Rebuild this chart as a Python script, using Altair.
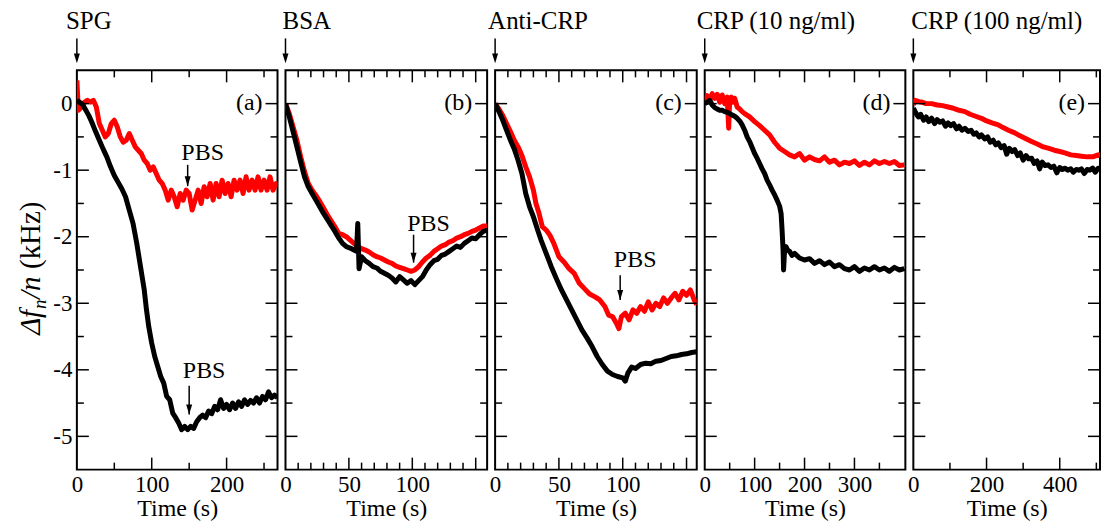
import altair as alt
import pandas as pd

FONT = "Liberation Serif"
H = 400
Y_DOMAIN = [-5.5, 0.5]
Y_LABELS = [0, -1, -2, -3, -4, -5]
Y_MINOR = [-0.5, -1.5, -2.5, -3.5, -4.5]

# ---------------- data ----------------
# (a) SPG
A_BLACK_T = [0, 4, 8, 12, 16, 20, 25, 30, 35, 40, 45, 50, 55, 60, 65, 70, 75, 80, 85, 90, 93, 96, 100, 104, 108,
             112, 116, 120, 124, 128, 132, 136, 140, 144, 148, 152, 156, 160, 164, 168, 172, 176, 180, 184, 188, 192,
             196, 200, 204, 208, 212, 216, 220, 224, 228, 232, 236, 240, 244, 248, 252, 256, 260, 264, 268]
A_BLACK_Y = [0.05, 0.02, -0.02, -0.1, -0.18, -0.28, -0.42, -0.55, -0.68, -0.8, -0.95, -1.08, -1.18, -1.28, -1.4,
             -1.6, -1.8, -2.1, -2.45, -2.8, -3.1, -3.35, -3.6, -3.8, -3.95, -4.1, -4.2, -4.4, -4.45, -4.65, -4.72,
             -4.8, -4.9, -4.85, -4.9, -4.85, -4.88, -4.78, -4.72, -4.68, -4.72, -4.62, -4.66, -4.55, -4.6, -4.45,
             -4.58, -4.52, -4.6, -4.5, -4.58, -4.48, -4.55, -4.45, -4.52, -4.46, -4.5, -4.42, -4.5, -4.4, -4.45,
             -4.33, -4.42, -4.38, -4.42]
A_RED_T = [0, 2, 6, 10, 14, 18, 22, 26, 30, 34, 38, 42, 46, 50, 54, 58, 62, 66, 70, 74, 78, 82, 86, 90, 94, 98,
           102, 106, 110, 114, 118, 122, 126, 130, 134, 138, 142, 146, 150, 154, 158, 162, 166, 170, 174, 178, 182,
           186, 190, 194, 198, 202, 206, 210, 214, 218, 222, 226, 230, 234, 238, 242, 246, 250, 254, 258, 262, 266,
           268]
A_RED_Y = [0.35, -0.1, -0.05, 0.02, 0.05, 0.02, 0.05, -0.05, -0.3, -0.4, -0.5, -0.45, -0.3, -0.25, -0.35, -0.5,
           -0.58, -0.55, -0.45, -0.55, -0.65, -0.7, -0.75, -0.85, -0.9, -1.0, -0.95, -1.05, -1.15, -1.2, -1.3,
           -1.45, -1.3, -1.4, -1.55, -1.35, -1.45, -1.3, -1.35, -1.6, -1.45, -1.3, -1.5, -1.25, -1.4, -1.2, -1.45,
           -1.2, -1.4, -1.15, -1.35, -1.2, -1.4, -1.15, -1.3, -1.15, -1.35, -1.1, -1.3, -1.15, -1.3, -1.1, -1.3,
           -1.15, -1.3, -1.1, -1.3, -1.2, -1.25]

# (b) BSA
B_BLACK_T = [0, 3, 6, 9, 12, 15, 18, 21, 24, 27, 30, 33, 36, 39, 42, 45, 48, 51, 54, 56, 57, 58, 60, 63, 66, 69,
             72, 75, 78, 81, 84, 87, 90, 93, 96, 99, 102, 105, 108, 111, 114, 117, 120, 123, 126, 129, 132, 135,
             138, 141, 144, 147, 150, 153, 156, 159]
B_BLACK_Y = [0, -0.2, -0.42, -0.65, -0.88, -1.1, -1.25, -1.35, -1.45, -1.55, -1.65, -1.74, -1.83, -1.92, -2.02,
             -2.1, -2.15, -2.17, -2.2, -2.22, -1.8, -2.48, -2.3, -2.36, -2.4, -2.45, -2.47, -2.52, -2.55, -2.58,
             -2.62, -2.68, -2.6, -2.65, -2.7, -2.66, -2.72, -2.66, -2.6, -2.5, -2.42, -2.36, -2.34, -2.28, -2.26,
             -2.22, -2.18, -2.14, -2.16, -2.1, -2.06, -2.02, -2.03, -1.97, -1.92, -1.9]
B_RED_T = [0, 3, 6, 9, 12, 15, 18, 21, 24, 27, 30, 33, 36, 39, 42, 45, 48, 51, 54, 57, 60, 63, 66, 69, 72, 75, 78,
           81, 84, 87, 90, 93, 96, 99, 102, 105, 108, 111, 114, 117, 120, 123, 126, 129, 132, 135, 138, 141, 144,
           147, 150, 153, 156, 159]
B_RED_Y = [0, -0.15, -0.35, -0.55, -0.8, -1.02, -1.2, -1.3, -1.38, -1.47, -1.57, -1.67, -1.76, -1.85, -1.95,
           -1.97, -2.0, -2.05, -2.1, -2.15, -2.18, -2.2, -2.23, -2.27, -2.3, -2.32, -2.35, -2.38, -2.4, -2.44,
           -2.46, -2.48, -2.5, -2.52, -2.5, -2.45, -2.38, -2.32, -2.28, -2.22, -2.18, -2.14, -2.12, -2.08, -2.06,
           -2.02, -2.0, -1.97, -1.95, -1.92, -1.9, -1.87, -1.84, -1.84]

# (c) Anti-CRP
C_BLACK_T = [0, 3, 6, 9, 12, 15, 18, 21, 24, 27, 30, 33, 36, 40, 44, 48, 52, 56, 60, 64, 68, 72, 76, 80, 84, 88,
             92, 96, 100, 102, 104, 107, 110, 114, 118, 122, 126, 130, 134, 138, 142, 146, 150, 154, 158]
C_BLACK_Y = [0, -0.12, -0.25, -0.4, -0.55, -0.68, -0.85, -1.05, -1.35, -1.55, -1.7, -1.88, -2.05, -2.25, -2.45,
             -2.63, -2.8, -2.95, -3.1, -3.25, -3.4, -3.52, -3.65, -3.8, -3.92, -4.02, -4.07, -4.1, -4.12, -4.17,
             -4.05, -3.96, -3.98, -3.92, -3.9, -3.91, -3.87, -3.86, -3.83, -3.8, -3.79, -3.77, -3.76, -3.74, -3.73]
C_RED_T = [0, 3, 6, 9, 12, 15, 18, 21, 24, 27, 30, 32, 34, 37, 40, 43, 46, 50, 54, 58, 62, 66, 70, 74, 78, 82, 86,
           89, 92, 95, 97, 99, 102, 105, 108, 111, 114, 117, 120, 123, 126, 129, 132, 135, 138, 141, 144, 147, 150,
           153, 156, 158]
C_RED_Y = [0, -0.08, -0.18, -0.3, -0.42, -0.55, -0.65, -0.78, -0.95, -1.1, -1.3, -1.5, -1.62, -1.85, -1.9, -1.98,
           -2.1, -2.3, -2.38, -2.48, -2.55, -2.7, -2.78, -2.86, -2.9, -2.95, -3.05, -3.18, -3.2, -3.3, -3.38, -3.2,
           -3.15, -3.25, -3.1, -3.15, -3.05, -3.12, -2.98, -3.1, -3.0, -3.05, -2.92, -3.0, -2.92, -2.85, -2.95,
           -2.82, -2.88, -2.8, -2.95, -3.02]

# (d) CRP 10 ng/ml
D_BLACK_T = [0, 5, 10, 15, 20, 25, 30, 35, 40, 45, 50, 55, 60, 65, 70, 75, 80, 85, 90, 95, 100, 105, 110, 115, 120,
             125, 130, 135, 140, 145, 150, 153, 155, 157, 158, 160, 163, 166, 170, 175, 180, 190, 200, 210, 220,
             230, 240, 250, 260, 270, 280, 290, 300, 310, 320, 330, 340, 350, 360, 370, 380, 390, 400]
D_BLACK_Y = [0.0, 0.02, 0.05, -0.02, -0.06, -0.08, -0.1, -0.1, -0.12, -0.13, -0.15, -0.17, -0.19, -0.22, -0.26,
             -0.32, -0.4, -0.5, -0.57, -0.66, -0.75, -0.82, -0.9, -0.98, -1.05, -1.15, -1.22, -1.3, -1.37, -1.45,
             -1.54, -1.65, -1.9, -2.2, -2.5, -2.2, -2.15, -2.2, -2.22, -2.28, -2.25, -2.32, -2.35, -2.33, -2.4,
             -2.36, -2.42, -2.38, -2.45, -2.42, -2.48, -2.5, -2.45, -2.52, -2.47, -2.5, -2.45, -2.5, -2.47, -2.52,
             -2.46, -2.5, -2.48]
D_RED_T = [0, 5, 10, 15, 20, 25, 30, 35, 40, 45, 48, 50, 53, 56, 60, 65, 70, 75, 80, 90, 100, 110, 120, 130, 140,
           150, 160, 170, 180, 190, 200, 210, 220, 230, 240, 250, 260, 270, 280, 290, 300, 310, 320, 330, 340, 350,
           360, 370, 380, 390, 400]
D_RED_Y = [0.05, 0.12, 0.05, 0.15, 0.08, 0.14, 0.02, 0.13, 0.0, 0.1, -0.37, 0.05, 0.1, 0.02, 0.08, -0.05, -0.08,
           -0.12, -0.15, -0.2, -0.27, -0.33, -0.4, -0.47, -0.58, -0.67, -0.72, -0.77, -0.8, -0.75, -0.85, -0.8,
           -0.84, -0.86, -0.8, -0.88, -0.85, -0.92, -0.88, -0.9, -0.86, -0.93, -0.88, -0.92, -0.86, -0.9, -0.87,
           -0.9, -0.87, -0.93, -0.92]

# (e) CRP 100 ng/ml
E_BLACK_T = [0, 5, 10, 14, 20, 28, 35, 42, 50, 58, 65, 72, 80, 88, 95, 102, 110, 118, 125, 133, 141, 150, 158, 165,
             172, 180, 186, 195, 203, 210, 218, 225, 232, 240, 248, 255, 262, 270, 277, 285, 292, 300, 308, 315,
             323, 330, 338, 345, 352, 360, 368, 376, 384, 392, 400, 407, 414, 422, 430, 437, 445, 452, 459, 467,
             475, 482, 490, 497, 505, 510]
E_BLACK_Y = [-0.07, -0.12, -0.17, -0.2, -0.16, -0.25, -0.2, -0.27, -0.22, -0.3, -0.24, -0.28, -0.26, -0.34, -0.29,
             -0.33, -0.3, -0.38, -0.34, -0.4, -0.37, -0.42, -0.4, -0.46, -0.44, -0.5, -0.47, -0.53, -0.5, -0.58,
             -0.55, -0.62, -0.59, -0.66, -0.63, -0.76, -0.67, -0.72, -0.69, -0.78, -0.74, -0.85, -0.78, -0.83,
             -0.82, -0.9, -0.86, -0.98, -0.88, -0.93, -0.92, -0.96, -0.94, -1.04, -0.96, -0.99, -0.97, -1.0, -0.98,
             -1.03, -0.99, -1.0, -0.98, -1.05, -0.99, -1.0, -0.97, -1.03, -0.97, -0.98]
E_RED_T = [0, 5, 15, 25, 35, 50, 65, 80, 95, 110, 125, 141, 155, 170, 186, 200, 215, 232, 245, 260, 277, 290, 305,
           323, 340, 355, 368, 385, 400, 414, 430, 445, 459, 475, 490, 505, 510]
E_RED_Y = [-0.02, 0.05, 0.03, 0.02, 0.0, 0.0, -0.02, -0.03, -0.05, -0.07, -0.1, -0.12, -0.16, -0.19, -0.22, -0.26,
           -0.29, -0.32, -0.36, -0.4, -0.44, -0.48, -0.52, -0.57, -0.61, -0.65, -0.67, -0.7, -0.72, -0.74, -0.77,
           -0.78, -0.79, -0.8, -0.8, -0.77, -0.79]

# PBS annotations: time of injection, text baseline, arrow top, arrow tip
A_PBS_T = [148, 150]
A_PBS_TEXT = [-0.84, -4.13]
A_PBS_TOP = [-0.92, -4.24]
A_PBS_TIP = [-1.24, -4.67]
B_PBS_T = [101]
B_PBS_TEXT = [-1.91]
B_PBS_TOP = [-1.97]
B_PBS_TIP = [-2.39]
C_PBS_T = [98]
C_PBS_TEXT = [-2.45]
C_PBS_TOP = [-2.58]
C_PBS_TIP = [-2.95]

PANELS = [
    dict(title="SPG", label="(a)", width=201, xmax=268, xlabels=[0, 100, 200], xmajor=[100, 200],
         xminor=[50, 150, 250], tdx=-11, black=(A_BLACK_T, A_BLACK_Y), red=(A_RED_T, A_RED_Y),
         pbs=(A_PBS_T, A_PBS_TEXT, A_PBS_TOP, A_PBS_TIP)),
    dict(title="BSA", label="(b)", width=202, xmax=159, xlabels=[0, 50, 100], xmajor=[50, 100, 150],
         xminor=[10, 20, 30, 40, 60, 70, 80, 90, 110, 120, 130, 140], tdx=-3, black=(B_BLACK_T, B_BLACK_Y),
         red=(B_RED_T, B_RED_Y), pbs=(B_PBS_T, B_PBS_TEXT, B_PBS_TOP, B_PBS_TIP)),
    dict(title="Anti-CRP", label="(c)", width=202, xmax=158, xlabels=[0, 50, 100], xmajor=[50, 100, 150],
         xminor=[10, 20, 30, 40, 60, 70, 80, 90, 110, 120, 130, 140], tdx=-7, black=(C_BLACK_T, C_BLACK_Y),
         red=(C_RED_T, C_RED_Y), pbs=(C_PBS_T, C_PBS_TEXT, C_PBS_TOP, C_PBS_TIP)),
    dict(title="CRP (10 ng/ml)", label="(d)", width=201, xmax=402, xlabels=[0, 100, 200, 300],
         xmajor=[100, 200, 300], xminor=[50, 150, 250, 350], tdx=-8, black=(D_BLACK_T, D_BLACK_Y),
         red=(D_RED_T, D_RED_Y), pbs=None),
    dict(title="CRP (100 ng/ml)", label="(e)", width=187, xmax=510, xlabels=[0, 200, 400], xmajor=[200, 400],
         xminor=[100, 300, 500], tdx=-2, black=(E_BLACK_T, E_BLACK_Y), red=(E_RED_T, E_RED_Y), pbs=None),
]

ARROW_SHAPE = "M-1.2,-4L1.2,-4L0,0Z"
MAJ, MIN = 12, 7


def make_panel(p, first):
    W = p["width"]
    xs = alt.Scale(domain=[0, p["xmax"]], nice=False, zero=False)
    ys = alt.Scale(domain=Y_DOMAIN, nice=False, zero=False)
    xaxis = alt.Axis(values=p["xlabels"], ticks=False, domain=False, grid=False, labelFlush=False,
                     labelOverlap=False, labelPadding=4, title="Time (s)", titlePadding=0, format="d")
    if first:
        yaxis = alt.Axis(values=Y_LABELS, ticks=False, domain=False, grid=False, labelPadding=5, title=None,
                         labelFlush=False, labelOverlap=False,
                         labelExpr="datum.value < 0 ? '-' + (-datum.value) : '' + datum.value")
    else:
        yaxis = None
    X = lambda f: alt.X(f, type="quantitative", scale=xs, axis=xaxis)
    Y = lambda f: alt.Y(f, type="quantitative", scale=ys, axis=yaxis)

    layers = []
    for key, col in (("red", "#ff0000"), ("black", "#000000")):
        tt, yy = p[key]
        df = pd.DataFrame({"t": tt, "y": yy})
        layers.append(alt.Chart(df).mark_line(color=col, strokeWidth=5, strokeJoin="round", clip=True)
                      .encode(x=X("t"), y=Y("y")))

    # frame ticks (inward)
    xmaj = pd.DataFrame({"t": p["xmajor"]})
    xmin = pd.DataFrame({"t": p["xminor"]})
    for df, L in ((xmaj, MAJ), (xmin, MIN)):
        layers.append(alt.Chart(df).mark_rule(color="black", strokeWidth=1.5)
                      .encode(x=X("t"), y=alt.value(H), y2=alt.value(H - L)))
        layers.append(alt.Chart(df).mark_rule(color="black", strokeWidth=1.5)
                      .encode(x=X("t"), y=alt.value(0), y2=alt.value(L)))
    ymaj = pd.DataFrame({"y": Y_LABELS})
    ymin = pd.DataFrame({"y": Y_MINOR})
    for df, L in ((ymaj, MAJ), (ymin, MIN)):
        layers.append(alt.Chart(df).mark_rule(color="black", strokeWidth=1.5)
                      .encode(y=Y("y"), x=alt.value(0), x2=alt.value(L)))
        layers.append(alt.Chart(df).mark_rule(color="black", strokeWidth=1.5)
                      .encode(y=Y("y"), x=alt.value(W), x2=alt.value(W - L)))

    # panel letter
    lab = pd.DataFrame({"y": [0], "s": [p["label"]]})
    layers.append(alt.Chart(lab).mark_text(font=FONT, fontSize=24, align="right", baseline="middle",
                                           color="black", dy=-1)
                  .encode(y=Y("y"), x=alt.value(W - 15), text="s:N"))

    # injection label + arrow above
    top = pd.DataFrame({"s": [p["title"]]})
    layers.append(alt.Chart(top).mark_text(font=FONT, fontSize=25, align="left", baseline="alphabetic",
                                           color="black")
                  .encode(x=alt.value(p["tdx"]), y=alt.value(-41), text="s:N"))
    layers.append(alt.Chart(top).mark_rule(color="black", strokeWidth=1.5)
                  .encode(x=alt.value(0), y=alt.value(-32), y2=alt.value(-12)))
    layers.append(alt.Chart(top).mark_point(shape=ARROW_SHAPE, size=25, filled=True, color="black",
                                            opacity=1, strokeWidth=0)
                  .encode(x=alt.value(0), y=alt.value(-7)))

    if p["pbs"] is not None:
        t, ytx, ytop, ytip = p["pbs"]
        pdf = pd.DataFrame({"t": t, "ytext": ytx, "ytop": ytop, "ytip": ytip, "s": ["PBS"] * len(t)})
        layers.append(alt.Chart(pdf).mark_text(font=FONT, fontSize=24, align="center", baseline="alphabetic",
                                               color="black", dx=15)
                      .encode(x=X("t"), y=Y("ytext"), text="s:N"))
        layers.append(alt.Chart(pdf).mark_rule(color="black", strokeWidth=1.5)
                      .encode(x=X("t"), y=Y("ytop"), y2=alt.Y2("ytip")))
        layers.append(alt.Chart(pdf).mark_point(shape=ARROW_SHAPE, size=25, filled=True, color="black",
                                                opacity=1, strokeWidth=0)
                      .encode(x=X("t"), y=Y("ytip")))

    if first:
        # y-axis title: Δf_n/n (kHz)
        xb = -37
        pieces = [("Δf", 29, "italic", xb, 265), ("n", 19, "italic", xb + 6, 239),
                  ("/n", 29, "italic", xb, 229), ("(kHz)", 29, "normal", xb, 199)]
        for s, fs, st, xx, yy in pieces:
            d = pd.DataFrame({"s": [s]})
            layers.append(alt.Chart(d).mark_text(font=FONT, fontSize=fs, fontStyle=st, angle=270, align="left",
                                                 baseline="alphabetic", color="black")
                          .encode(x=alt.value(xx), y=alt.value(yy), text="s:N"))

    return alt.layer(*layers).properties(width=W, height=H)


charts = [make_panel(p, i == 0) for i, p in enumerate(PANELS)]

chart = (
    alt.hconcat(*charts, spacing=8, bounds="flush")
    .properties(padding={"left": 8, "top": 0, "right": 0, "bottom": 0})
    .configure_view(stroke="black", strokeWidth=2)
    .configure_axis(labelFont=FONT, labelFontSize=23, labelColor="black", titleFont=FONT, titleFontSize=24,
                    titleColor="black", titleFontWeight="normal")
)

chart.save("out.html", embed_options={"renderer": "svg", "actions": False})
